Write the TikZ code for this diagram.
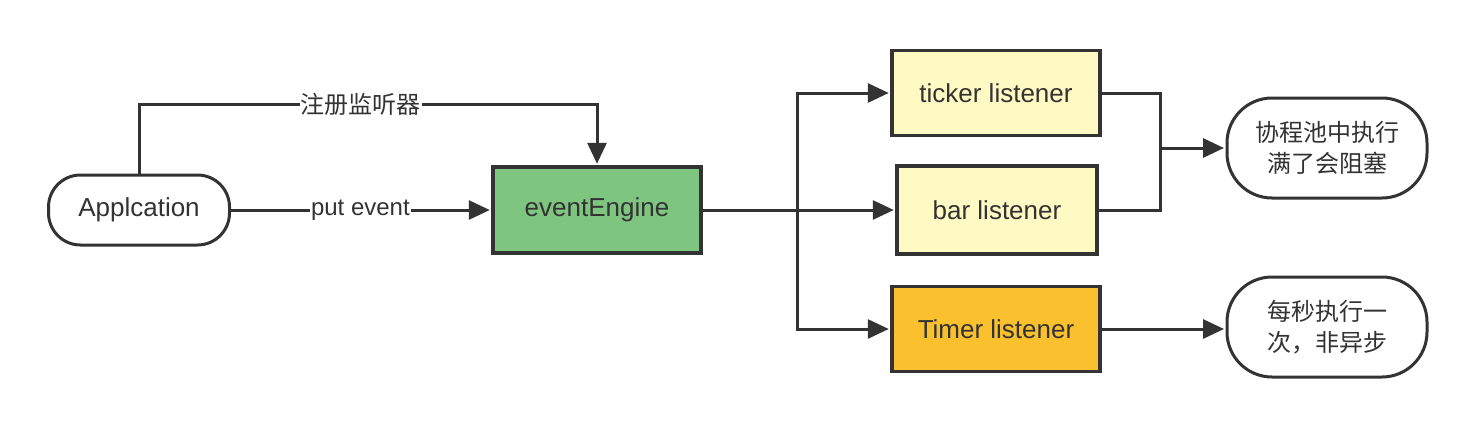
\documentclass[tikz,border=0pt]{standalone}
\usepackage{fontspec}
\setmainfont{Liberation Sans}
\newfontfamily\cjk{Noto Sans CJK SC}
\usetikzlibrary{arrows.meta}
\definecolor{ln}{RGB}{51,51,51}
\definecolor{green1}{RGB}{126,198,128}
\definecolor{ylight}{RGB}{255,249,196}
\definecolor{yorange}{RGB}{251,192,45}
\tikzset{
  box/.style={draw=ln, line width=3.5pt, inner sep=0pt, text=ln, font=\fontsize{26}{31}\selectfont},
  bubble/.style={box, line width=3pt, rounded corners=#1, fill=white},
  conn/.style={draw=ln, line width=3pt},
  arr/.style={conn, -{Triangle[length=21pt,width=19pt]}},
  lbl/.style={fill=white, text=ln, inner sep=1pt, font=\fontsize{24}{28}\selectfont}
}
\begin{document}
\begin{tikzpicture}[x=1pt,y=-1pt]
\useasboundingbox (0,0) rectangle (1475,428);
\node[bubble=32pt, minimum width=181pt, minimum height=70pt] (app) at (139,210) {Applcation};
\node[box, fill=green1, minimum width=208pt, minimum height=86pt] (engine) at (597,210) {eventEngine};
\node[box, fill=ylight, minimum width=208pt, minimum height=85pt] (ticker) at (996,93) {ticker listener};
\node[box, fill=ylight, minimum width=200pt, minimum height=88pt] (bar) at (997,210) {bar listener};
\node[box, fill=yorange, minimum width=208pt, minimum height=85pt] (timer) at (996,329) {Timer listener};
\node[bubble=45pt, minimum width=200pt, minimum height=100pt, align=center, font=\cjk\fontsize{24}{31}\selectfont] (b1) at (1327,148) {协程池中执行\\满了会阻塞};
\node[bubble=45pt, minimum width=200pt, minimum height=100pt, align=center, font=\cjk\fontsize{24}{31}\selectfont] (b2) at (1327,327) {每秒执行一\\次，非异步};

\draw[arr] (app.north) -- ++(0,-69) -| node[lbl, pos=0.242, font=\cjk\fontsize{24}{28}\selectfont]{注册监听器} ([yshift=1.5pt]engine.north);
\draw[arr] (app.east) -- node[lbl]{put event} ([xshift=-1.5pt]engine.west);

\coordinate (j) at (797,210);
\draw[conn] (engine.east) -- (j);
\draw[arr] (j) |- ([xshift=-1.5pt]ticker.west);
\draw[arr] (j) -- ([xshift=-1.5pt]bar.west);
\draw[arr] (j) |- ([xshift=-1.5pt]timer.west);

\coordinate (k) at (1160,148);
\draw[conn] (ticker.east) -| (k);
\draw[conn] (bar.east) -| (k);
\draw[arr] (k) -- ([xshift=-1.5pt]b1.west);
\draw[arr] (timer.east) -- ([xshift=-1.5pt]timer.east -| b2.west);
\end{tikzpicture}
\end{document}
